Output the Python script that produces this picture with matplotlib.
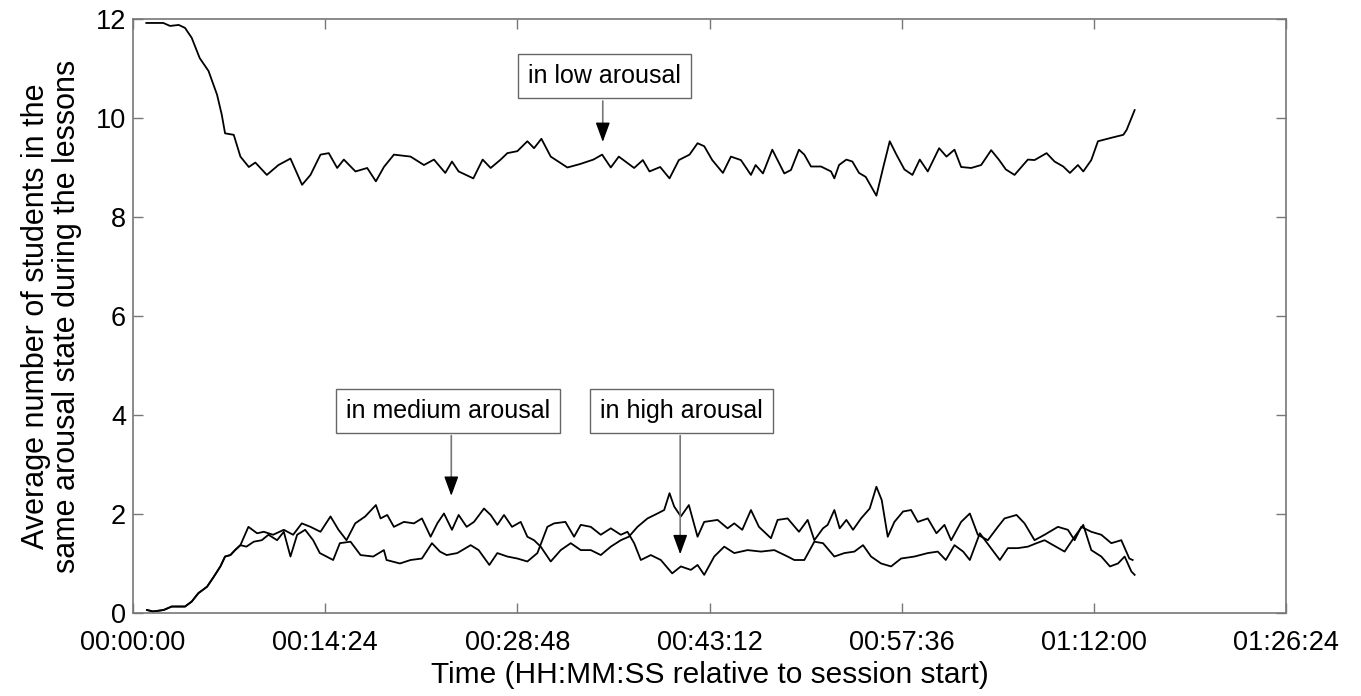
import matplotlib
matplotlib.use("Agg")
import matplotlib.pyplot as plt

plt.rcParams['font.family'] = ['Liberation Sans', 'DejaVu Sans']

# time in minutes from session start, values = average number of students
low_t = [1.0, 2.27, 2.78, 3.43, 3.9, 4.4, 5.0, 5.66, 6.3, 6.65, 6.9, 7.55, 8.05, 8.68, 9.17,
         10.03, 10.9, 11.8, 12.67, 13.3, 14.05, 14.67, 15.3, 15.8, 16.67, 17.55, 18.2, 18.8,
         19.55, 20.8, 21.8, 22.55, 23.4, 23.9, 24.4, 25.5, 26.2, 26.8, 27.55, 28.05, 28.8,
         29.55, 30.05, 30.6, 31.3, 32.55, 33.5, 34.5, 35.15, 35.8, 36.4, 36.9, 37.55, 38.2,
         38.7, 39.5, 40.2, 40.9, 41.7, 42.3, 42.8, 43.4, 44.2, 44.8, 45.55, 46.3, 46.65, 47.2,
         47.9, 48.8, 49.3, 49.9, 50.3, 50.8, 51.55, 52.3, 52.55, 52.9, 53.45, 53.9, 54.4, 54.9,
         55.7, 56.2, 56.7, 57.2, 57.8, 58.4, 58.95, 59.55, 60.4, 60.95, 61.55, 62.05, 62.8,
         63.55, 64.3, 64.9, 65.4, 66.05, 67.05, 67.55, 68.45, 69.05, 69.7, 70.2, 70.8, 71.2,
         71.8, 72.3, 73.3, 74.2, 74.45, 75.05]
low_v = [11.92, 11.92, 11.86, 11.88, 11.82, 11.62, 11.21, 10.95, 10.47, 10.07, 9.69, 9.66, 9.22,
         9.01, 9.10, 8.85, 9.05, 9.18, 8.65, 8.85, 9.26, 9.29, 8.99, 9.16, 8.92, 8.99, 8.72, 9.01,
         9.26, 9.22, 9.05, 9.16, 8.89, 9.12, 8.92, 8.78, 9.16, 8.99, 9.16, 9.29, 9.33, 9.53, 9.39,
         9.58, 9.22, 9.00, 9.07, 9.16, 9.26, 9.00, 9.22, 9.12, 8.99, 9.15, 8.92, 9.01, 8.78, 9.15,
         9.26, 9.49, 9.43, 9.15, 8.89, 9.22, 9.15, 8.85, 9.05, 8.88, 9.36, 8.88, 8.95, 9.36, 9.26,
         9.02, 9.02, 8.92, 8.78, 9.05, 9.16, 9.12, 8.89, 8.81, 8.43, 8.99, 9.53, 9.26, 8.96, 8.85,
         9.16, 8.92, 9.39, 9.22, 9.36, 9.01, 8.99, 9.05, 9.35, 9.15, 8.96, 8.85, 9.16, 9.15, 9.29,
         9.12, 9.02, 8.89, 9.05, 8.92, 9.15, 9.53, 9.60, 9.66, 9.76, 10.16]

med_t = [1.05, 1.5, 2.3, 2.9, 3.9, 4.4, 4.9, 5.55, 6.05, 6.55, 6.9, 7.3, 7.65, 8.05, 8.65, 9.3,
         9.8, 10.5, 11.3, 12.0, 12.65, 13.3, 14.05, 14.8, 15.4, 16.0, 16.65, 17.4, 18.2, 18.55,
         19.05, 19.55, 20.3, 21.05, 21.65, 22.3, 22.8, 23.3, 23.9, 24.4, 25.0, 25.55, 26.3, 26.8,
         27.3, 27.8, 28.4, 29.05, 29.55, 30.05, 30.55, 31.3, 32.05, 32.8, 33.55, 34.3, 35.05,
         35.8, 36.55, 37.15, 37.8, 38.55, 39.3, 39.8, 40.2, 40.55, 41.05, 41.65, 42.3, 42.8,
         43.8, 44.55, 45.05, 45.65, 46.3, 46.9, 47.8, 48.3, 49.05, 49.9, 50.55, 51.05, 51.7,
         52.05, 52.55, 52.95, 53.45, 53.95, 54.55, 55.2, 55.7, 56.1, 56.55, 57.05, 57.7, 58.3,
         58.8, 59.55, 60.2, 60.8, 61.3, 62.05, 62.7, 63.3, 64.05, 64.8, 65.3, 66.2, 66.8, 67.55,
         68.3, 69.3, 70.05, 70.55, 71.05, 71.8, 72.55, 73.3, 74.05, 74.65, 74.9]
med_v = [0.06, 0.03, 0.06, 0.13, 0.13, 0.23, 0.40, 0.53, 0.73, 0.94, 1.14, 1.17, 1.27, 1.37, 1.74,
         1.61, 1.64, 1.58, 1.68, 1.58, 1.81, 1.74, 1.64, 1.95, 1.68, 1.47, 1.81, 1.95, 2.18, 1.91,
         1.98, 1.74, 1.84, 1.81, 1.91, 1.54, 1.81, 2.01, 1.68, 1.98, 1.74, 1.84, 2.11, 1.98, 1.78,
         1.98, 1.74, 1.84, 1.54, 1.47, 1.34, 1.04, 1.27, 1.41, 1.27, 1.27, 1.17, 1.34, 1.47, 1.54,
         1.74, 1.91, 2.01, 2.08, 2.42, 2.15, 1.95, 2.18, 1.54, 1.84, 1.88, 1.71, 1.81, 1.68, 2.08,
         1.74, 1.51, 1.88, 1.91, 1.64, 1.88, 1.47, 1.71, 1.78, 2.08, 1.71, 1.88, 1.68, 1.91, 2.11,
         2.55, 2.28, 1.54, 1.84, 2.05, 2.08, 1.84, 1.91, 1.61, 1.78, 1.47, 1.84, 2.01, 1.58, 1.47,
         1.74, 1.91, 1.98, 1.81, 1.47, 1.58, 1.74, 1.68, 1.47, 1.74, 1.64, 1.58, 1.41, 1.47, 1.10,
         1.07]

high_t = [1.05, 1.5, 2.3, 2.9, 3.9, 4.4, 4.9, 5.55, 6.05, 6.55, 6.9, 7.3, 7.65, 8.05, 8.5, 9.05,
          9.65, 10.15, 10.8, 11.3, 11.8, 12.3, 12.9, 13.5, 14.0, 15.0, 15.5, 16.3, 17.05, 18.0,
          18.8, 19.0, 20.0, 20.8, 21.65, 22.4, 23.0, 23.5, 24.3, 25.3, 25.9, 26.7, 27.3, 28.05,
          28.8, 29.55, 30.3, 31.05, 31.55, 32.4, 33.05, 33.55, 34.3, 35.05, 35.8, 36.55, 37.05,
          37.55, 38.05, 38.8, 39.55, 40.4, 41.05, 41.8, 42.3, 42.8, 43.55, 44.3, 45.05, 46.05,
          47.05, 48.05, 49.05, 49.55, 50.3, 51.05, 51.7, 52.55, 53.3, 54.05, 54.7, 55.3, 56.05,
          56.8, 57.55, 58.55, 59.55, 60.3, 60.9, 61.55, 62.2, 62.7, 63.45, 64.2, 64.95, 65.55,
          66.3, 67.05, 67.7, 68.3, 68.95, 69.8, 70.55, 71.2, 71.8, 72.55, 73.2, 73.8, 74.3, 74.8,
          75.05]
high_v = [0.06, 0.03, 0.06, 0.13, 0.13, 0.23, 0.40, 0.53, 0.73, 0.94, 1.14, 1.17, 1.27, 1.37, 1.34,
          1.44, 1.47, 1.58, 1.47, 1.64, 1.14, 1.58, 1.68, 1.47, 1.21, 1.07, 1.41, 1.44, 1.17, 1.14,
          1.27, 1.07, 1.00, 1.07, 1.10, 1.41, 1.24, 1.17, 1.21, 1.37, 1.27, 0.97, 1.21, 1.14, 1.10,
          1.04, 1.21, 1.74, 1.81, 1.84, 1.54, 1.78, 1.74, 1.58, 1.71, 1.58, 1.64, 1.41, 1.07, 1.17,
          1.07, 0.80, 0.94, 0.87, 0.97, 0.77, 1.14, 1.34, 1.21, 1.27, 1.24, 1.27, 1.14, 1.07, 1.07,
          1.44, 1.41, 1.14, 1.21, 1.24, 1.37, 1.14, 1.00, 0.94, 1.10, 1.14, 1.21, 1.24, 1.07, 1.37,
          1.24, 1.07, 1.61, 1.34, 1.07, 1.31, 1.31, 1.34, 1.41, 1.47, 1.37, 1.24, 1.54, 1.78, 1.27,
          1.14, 0.94, 1.00, 1.14, 0.84, 0.77]

tick_min = [0, 14.4, 28.8, 43.2, 57.6, 72.0, 86.4]
tick_lab = ["00:00:00", "00:14:24", "00:28:48", "00:43:12", "00:57:36", "01:12:00", "01:26:24"]

fig = plt.figure(figsize=(13.61, 6.96), dpi=100)
ax = fig.add_axes([0.0977, 0.1193, 0.8473, 0.8534])

ax.plot(low_t, low_v, color='black', lw=1.3)
ax.plot(med_t, med_v, color='black', lw=1.3)
ax.plot(high_t, high_v, color='black', lw=1.3)

ax.set_xlim(0, 86.4)
ax.set_ylim(0, 12)
ax.set_xticks(tick_min)
ax.set_xticklabels(tick_lab)
ax.set_yticks(range(0, 13, 2))
ax.tick_params(direction='in', top=True, right=True, length=7, width=1,
               color='#777777', labelsize=19.5)
ax.tick_params(axis='x', pad=12)
ax.tick_params(axis='y', pad=5)
for s in ax.spines.values():
    s.set_color('#777777')
    s.set_linewidth(1.2)

ax.set_xlabel("Time (HH:MM:SS relative to session start)", fontsize=21.5, labelpad=4)
ax.set_ylabel("Average number of students in the\nsame arousal state during the lessons",
              fontsize=22, labelpad=10, linespacing=1.05)

box = dict(boxstyle='square,pad=0.4', fc='white', ec='#666666', lw=1)
notes = [("in low arousal", (35.3, 10.85), (35.2, 9.46)),
         ("in medium arousal", (23.6, 4.09), (23.85, 2.31)),
         ("in high arousal", (41.1, 4.09), (41.0, 1.13))]
for txt, xy_text, tip in notes:
    ax.text(xy_text[0], xy_text[1], txt, fontsize=18, ha='center', va='center', bbox=box)
    # grey shaft from the box down, black head at the end
    ax.annotate("", xy=(tip[0], tip[1] + 0.3), xytext=(tip[0], xy_text[1] - 0.45),
                arrowprops=dict(arrowstyle='-', color='#777777', lw=1.2))
    ax.annotate("", xy=tip, xytext=(tip[0], tip[1] + 0.4),
                arrowprops=dict(arrowstyle='-|>,head_length=0.6,head_width=0.22',
                                mutation_scale=20, color='black', lw=1))

fig.savefig("out.png", dpi=100)
